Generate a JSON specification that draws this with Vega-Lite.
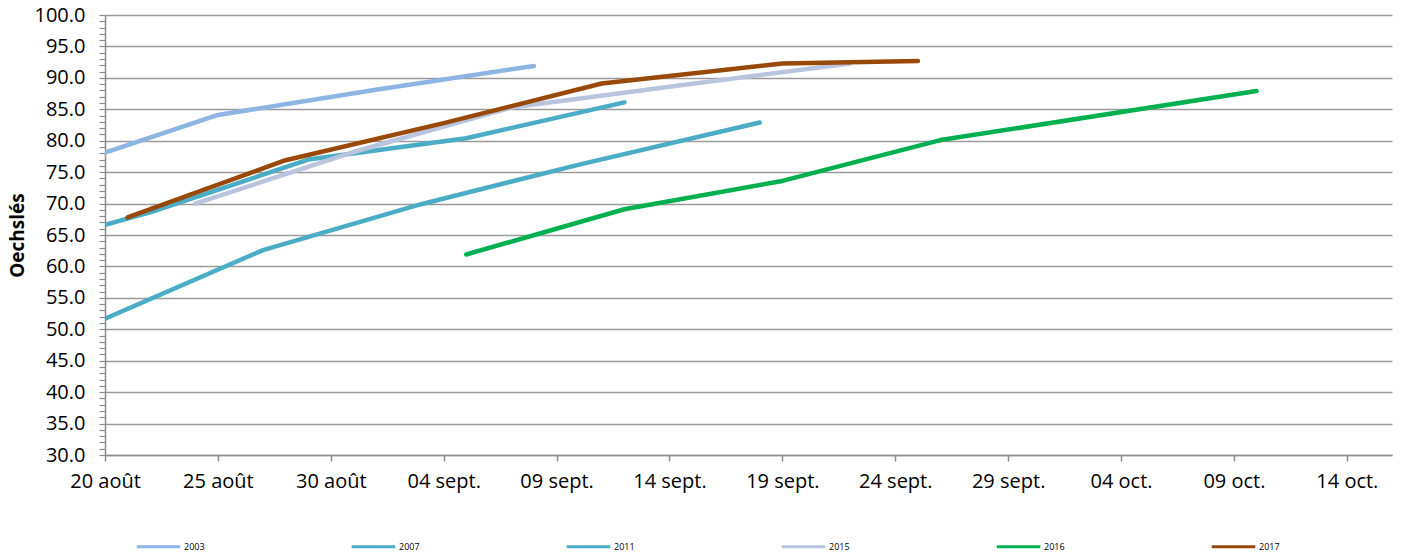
{
  "$schema": "https://vega.github.io/schema/vega-lite/v6.json",
  "width": 1287,
  "height": 440,
  "autosize": {"type": "none"},
  "padding": {"left": 105, "top": 15, "right": 10, "bottom": 100},
  "background": "white",
  "config": {
    "view": {"stroke": null},
    "font": "Open Sans"
  },
  "data": {
    "values": [
      {"annee": "2003", "jour": "2001-08-20T00:00:00Z", "oe": 78.1},
      {"annee": "2003", "jour": "2001-08-25T00:00:00Z", "oe": 84.1},
      {"annee": "2003", "jour": "2001-09-01T00:00:00Z", "oe": 88.1},
      {"annee": "2003", "jour": "2001-09-08T00:00:00Z", "oe": 91.9},
      {"annee": "2007", "jour": "2001-08-20T00:00:00Z", "oe": 51.7},
      {"annee": "2007", "jour": "2001-08-27T00:00:00Z", "oe": 62.6},
      {"annee": "2007", "jour": "2001-09-03T00:00:00Z", "oe": 69.9},
      {"annee": "2007", "jour": "2001-09-10T00:00:00Z", "oe": 76.2},
      {"annee": "2007", "jour": "2001-09-18T00:00:00Z", "oe": 82.9},
      {"annee": "2011", "jour": "2001-08-20T00:00:00Z", "oe": 66.6},
      {"annee": "2011", "jour": "2001-08-22T00:00:00Z", "oe": 68.6},
      {"annee": "2011", "jour": "2001-08-29T00:00:00Z", "oe": 77.0},
      {"annee": "2011", "jour": "2001-09-05T00:00:00Z", "oe": 80.4},
      {"annee": "2011", "jour": "2001-09-12T00:00:00Z", "oe": 86.1},
      {"annee": "2015", "jour": "2001-08-24T00:00:00Z", "oe": 70.0},
      {"annee": "2015", "jour": "2001-08-31T00:00:00Z", "oe": 78.2},
      {"annee": "2015", "jour": "2001-09-07T00:00:00Z", "oe": 85.3},
      {"annee": "2015", "jour": "2001-09-14T00:00:00Z", "oe": 88.6},
      {"annee": "2015", "jour": "2001-09-22T00:00:00Z", "oe": 92.3},
      {"annee": "2016", "jour": "2001-09-05T00:00:00Z", "oe": 61.9},
      {"annee": "2016", "jour": "2001-09-12T00:00:00Z", "oe": 69.1},
      {"annee": "2016", "jour": "2001-09-19T00:00:00Z", "oe": 73.6},
      {"annee": "2016", "jour": "2001-09-26T00:00:00Z", "oe": 80.1},
      {"annee": "2016", "jour": "2001-10-10T00:00:00Z", "oe": 87.9},
      {"annee": "2017", "jour": "2001-08-21T00:00:00Z", "oe": 67.8},
      {"annee": "2017", "jour": "2001-08-28T00:00:00Z", "oe": 76.9},
      {"annee": "2017", "jour": "2001-09-04T00:00:00Z", "oe": 82.8},
      {"annee": "2017", "jour": "2001-09-11T00:00:00Z", "oe": 89.1},
      {"annee": "2017", "jour": "2001-09-19T00:00:00Z", "oe": 92.3},
      {"annee": "2017", "jour": "2001-09-25T00:00:00Z", "oe": 92.7}
    ]
  },
  "mark": {"type": "line", "strokeWidth": 4.5, "strokeCap": "round", "strokeJoin": "round", "clip": true},
  "encoding": {
    "x": {
      "field": "jour",
      "type": "temporal",
      "scale": {
        "type": "utc",
        "domain": [
          {"year": 2001, "month": 8, "date": 20, "utc": true},
          {"year": 2001, "month": 10, "date": 16, "utc": true}
        ]
      },
      "axis": {
        "title": null,
        "grid": false,
        "values": [
          {"year": 2001, "month": 8, "date": 20, "utc": true},
          {"year": 2001, "month": 8, "date": 25, "utc": true},
          {"year": 2001, "month": 8, "date": 30, "utc": true},
          {"year": 2001, "month": 9, "date": 4, "utc": true},
          {"year": 2001, "month": 9, "date": 9, "utc": true},
          {"year": 2001, "month": 9, "date": 14, "utc": true},
          {"year": 2001, "month": 9, "date": 19, "utc": true},
          {"year": 2001, "month": 9, "date": 24, "utc": true},
          {"year": 2001, "month": 9, "date": 29, "utc": true},
          {"year": 2001, "month": 10, "date": 4, "utc": true},
          {"year": 2001, "month": 10, "date": 9, "utc": true},
          {"year": 2001, "month": 10, "date": 14, "utc": true}
        ],
        "labelExpr": "utcFormat(datum.value, '%d') + ' ' + (utcmonth(datum.value) == 7 ? 'août' : utcmonth(datum.value) == 8 ? 'sept.' : 'oct.')",
        "labelFont": "Open Sans",
        "labelFontSize": 20,
        "labelColor": "#000000",
        "labelPadding": 10,
        "labelOverlap": false,
        "labelFlush": false,
        "tickSize": 6,
        "tickColor": "#8c8c8c",
        "tickWidth": 1.5,
        "domainColor": "#8c8c8c",
        "domainWidth": 1.5
      }
    },
    "y": {
      "field": "oe",
      "type": "quantitative",
      "scale": {"domain": [30, 100], "nice": false, "zero": false},
      "axis": {
        "title": "Oechslés",
        "titleFont": "Open Sans",
        "titleFontSize": 19,
        "titleFontWeight": "bold",
        "titleColor": "#000000",
        "titlePadding": 7,
        "values": [30,31,32,33,34,35,36,37,38,39,40,41,42,43,44,45,46,47,48,49,50,51,52,53,54,55,56,57,58,59,60,61,62,63,64,65,66,67,68,69,70,71,72,73,74,75,76,77,78,79,80,81,82,83,84,85,86,87,88,89,90,91,92,93,94,95,96,97,98,99,100],
        "labelExpr": "datum.value % 5 === 0 ? format(datum.value, '.1f') : ''",
        "labelFont": "Open Sans",
        "labelFontSize": 20,
        "labelColor": "#000000",
        "labelPadding": 14,
        "labelOverlap": false,
        "labelFlush": false,
        "tickSize": 6,
        "tickColor": "#8c8c8c",
        "tickWidth": 1.2,
        "domainColor": "#8c8c8c",
        "domainWidth": 1.5,
        "grid": true,
        "gridColor": "#9a9a9a",
        "gridWidth": 1.6,
        "gridOpacity": {"condition": {"test": "datum.value % 5 === 0", "value": 1}, "value": 0}
      }
    },
    "color": {
      "field": "annee",
      "type": "nominal",
      "scale": {
        "domain": ["2003", "2007", "2011", "2015", "2016", "2017"],
        "range": ["#8EB4E3", "#4BACC6", "#4BACC6", "#B9C4DD", "#00B050", "#984807"]
      },
      "legend": {
        "title": null,
        "orient": "none",
        "legendX": 30,
        "legendY": 508,
        "direction": "horizontal",
        "columns": 6,
        "symbolType": "stroke",
        "symbolSize": 1900,
        "symbolStrokeWidth": 3,
        "labelFont": "Open Sans",
        "labelFontSize": 9,
        "labelColor": "#000000",
        "labelOffset": 2,
        "columnPadding": 140
      }
    }
  }
}
